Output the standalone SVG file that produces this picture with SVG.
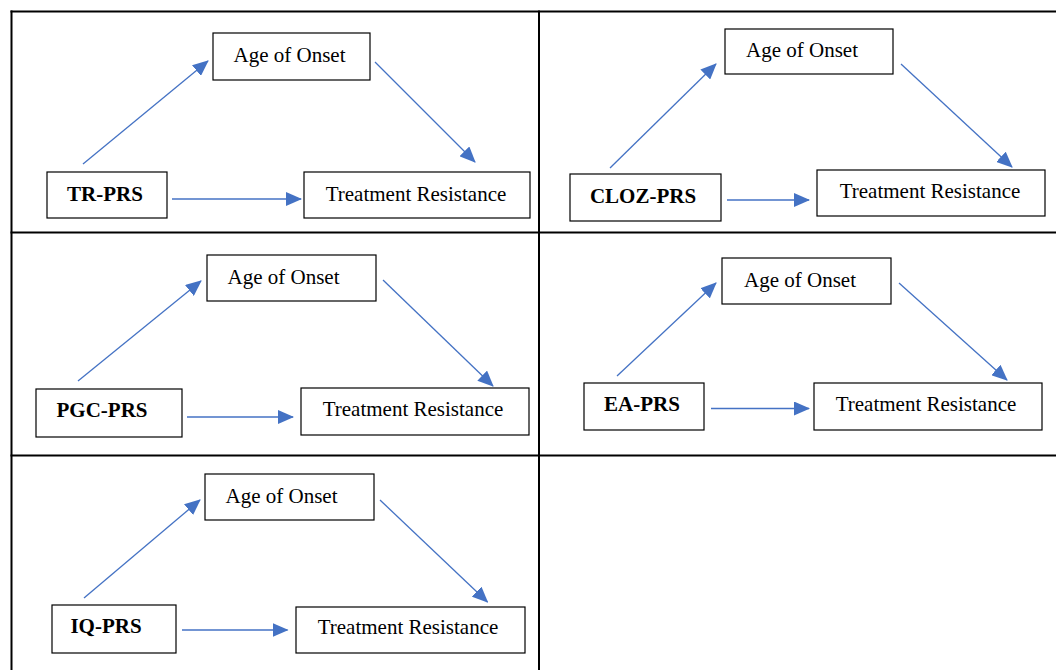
<svg xmlns="http://www.w3.org/2000/svg" width="1056" height="670" viewBox="0 0 1056 670">
<style>
.grid{stroke:#000;stroke-width:2;fill:none}
.box{fill:#fff;stroke:#000;stroke-width:1.2}
.t{font-family:"Liberation Serif","Times New Roman",serif;font-size:21px;fill:#000;text-anchor:middle}
.b{font-weight:bold}
.arr{stroke:#4472C4;stroke-width:1.3;fill:none;marker-end:url(#ah)}
</style>
<defs>
<marker id="ah" markerUnits="userSpaceOnUse" markerWidth="16" markerHeight="14" refX="15" refY="7" orient="auto">
<path d="M0,0 L16,7 L0,14 z" fill="#4472C4"/>
</marker>
</defs>
<rect width="1056" height="670" fill="#fff"/>
<g id="table" class="grid">
<line x1="10.5" y1="11.5" x2="1056" y2="11.5"/>
<line x1="10.5" y1="232.5" x2="1056" y2="232.5"/>
<line x1="10.5" y1="455.5" x2="1056" y2="455.5"/>
<line x1="11.5" y1="10.5" x2="11.5" y2="670"/>
<line x1="539" y1="10.5" x2="539" y2="670"/>
</g>
<g id="connectors">
<line class="arr" x1="83" y1="164" x2="208" y2="61"/>
<line class="arr" x1="375" y1="62" x2="475" y2="162"/>
<line class="arr" x1="172" y1="199" x2="301" y2="199"/>
<line class="arr" x1="610" y1="168" x2="716" y2="64"/>
<line class="arr" x1="901" y1="64" x2="1012" y2="167"/>
<line class="arr" x1="727" y1="200" x2="809" y2="200"/>
<line class="arr" x1="78" y1="381" x2="201" y2="281"/>
<line class="arr" x1="383" y1="280" x2="493" y2="386"/>
<line class="arr" x1="187" y1="417" x2="293" y2="417"/>
<line class="arr" x1="617" y1="376" x2="716" y2="283"/>
<line class="arr" x1="899" y1="283" x2="1007" y2="380"/>
<line class="arr" x1="711" y1="408.5" x2="809" y2="408.5"/>
<line class="arr" x1="84" y1="598" x2="200" y2="500"/>
<line class="arr" x1="380" y1="500" x2="487.5" y2="602"/>
<line class="arr" x1="182" y1="630" x2="287.5" y2="630"/>
</g>
<g id="c1-age"><rect class="box" x="213" y="33" width="157" height="47"/><text class="t" x="289.5" y="62">Age of Onset</text></g>
<g id="c1-prs"><rect class="box" x="47" y="172" width="120" height="46"/><text class="t b" x="105" y="201">TR-PRS</text></g>
<g id="c1-tr"><rect class="box" x="304" y="172" width="226" height="46"/><text class="t" x="416" y="201">Treatment Resistance</text></g>
<g id="c2-age"><rect class="box" x="725" y="29" width="168" height="45"/><text class="t" x="802" y="57">Age of Onset</text></g>
<g id="c2-prs"><rect class="box" x="570" y="174" width="151" height="47"/><text class="t b" x="643" y="203">CLOZ-PRS</text></g>
<g id="c2-tr"><rect class="box" x="817" y="170" width="228" height="46"/><text class="t" x="930" y="198">Treatment Resistance</text></g>
<g id="c3-age"><rect class="box" x="207" y="255" width="169" height="46"/><text class="t" x="283.5" y="284">Age of Onset</text></g>
<g id="c3-prs"><rect class="box" x="36" y="389" width="146" height="48"/><text class="t b" x="102" y="417">PGC-PRS</text></g>
<g id="c3-tr"><rect class="box" x="301" y="388" width="228" height="47"/><text class="t" x="413" y="416">Treatment Resistance</text></g>
<g id="c4-age"><rect class="box" x="722" y="258" width="169" height="46"/><text class="t" x="800" y="287">Age of Onset</text></g>
<g id="c4-prs"><rect class="box" x="584" y="383" width="120" height="47"/><text class="t b" x="642" y="411">EA-PRS</text></g>
<g id="c4-tr"><rect class="box" x="814" y="383" width="228" height="47"/><text class="t" x="926" y="411">Treatment Resistance</text></g>
<g id="c5-age"><rect class="box" x="205" y="474" width="169" height="46"/><text class="t" x="281.5" y="503">Age of Onset</text></g>
<g id="c5-prs"><rect class="box" x="52" y="605" width="124" height="48"/><text class="t b" x="106" y="633">IQ-PRS</text></g>
<g id="c5-tr"><rect class="box" x="296" y="607" width="229" height="46"/><text class="t" x="408" y="634">Treatment Resistance</text></g>
</svg>
